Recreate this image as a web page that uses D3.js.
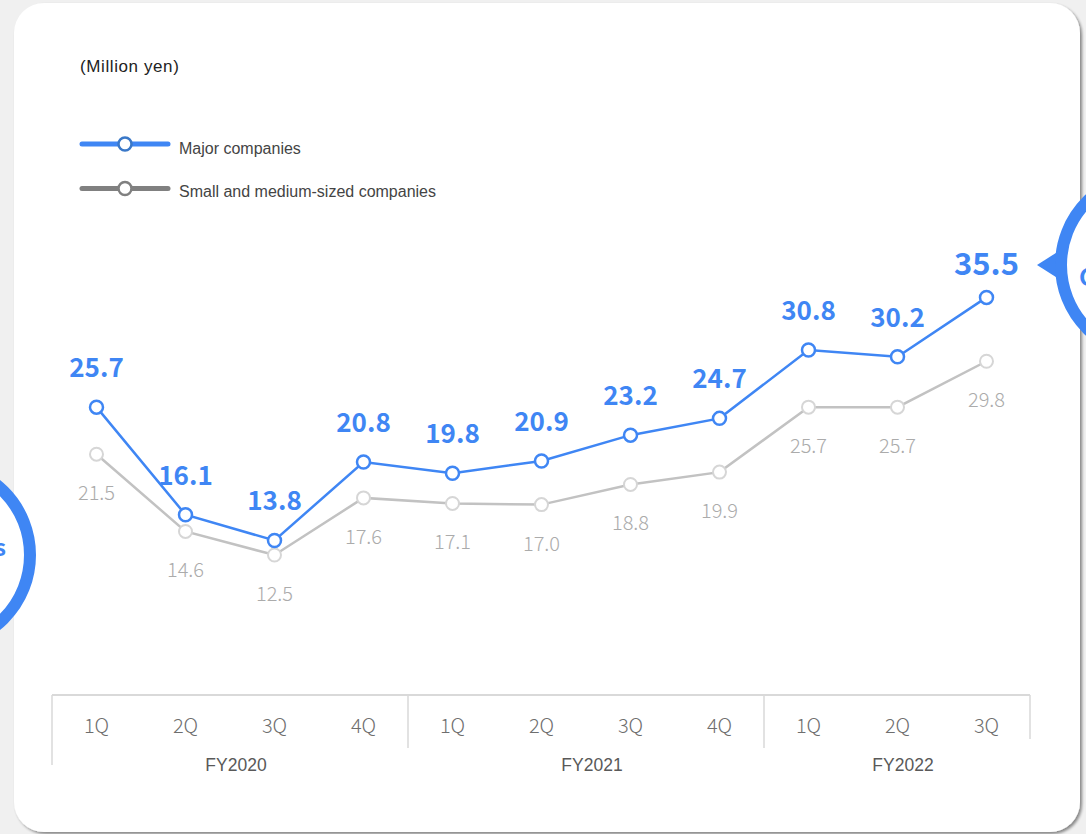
<!DOCTYPE html>
<html>
<head>
<meta charset="utf-8">
<script src="https://cdn.jsdelivr.net/npm/d3@7/dist/d3.min.js"></script>
<style>
  html, body { margin: 0; padding: 0; background: #f0f0f0; }
  svg { display: block; }
</style>
</head>
<body>
<svg id="chart" width="1086" height="834"></svg>
<script>
// Quarterly averages, million yen
const quarters = ["1Q", "2Q", "3Q", "4Q", "1Q", "2Q", "3Q", "4Q", "1Q", "2Q", "3Q"];
const fiscalYears = ["FY2020", "FY2021", "FY2022"];
const quartersPerYear = [4, 4, 3];
const majorValues = [25.7, 16.1, 13.8, 20.8, 19.8, 20.9, 23.2, 24.7, 30.8, 30.2, 35.5];
const smeValues = [21.5, 14.6, 12.5, 17.6, 17.1, 17.0, 18.8, 19.9, 25.7, 25.7, 29.8];
const seriesNames = ["Major companies", "Small and medium-sized companies"];
const unitLabel = "(Million yen)";

const BLUE = "#3f86f4";
const GREY_LINE = "#c2c2c2";
const GREY_DOT = "#d6d6d6";
const GREY_TEXT = "#ababab";
const numFont = "'Noto Sans CJK JP', 'Noto Sans', sans-serif";
const sansFont = "'Liberation Sans', Arial, sans-serif";

const svg = d3.select("#chart");
const W = 1086, H = 834;

// card background with soft edge shadow
const defs = svg.append("defs");
const f = defs.append("filter").attr("id", "shadow").attr("x", "-5%").attr("y", "-5%").attr("width", "110%").attr("height", "110%");
f.append("feGaussianBlur").attr("in", "SourceAlpha").attr("stdDeviation", 1.5).attr("result", "b");
f.append("feOffset").attr("in", "b").attr("dx", 1.5).attr("dy", 1.5).attr("result", "o");
f.append("feComponentTransfer").attr("in", "o").attr("result", "s")
  .append("feFuncA").attr("type", "linear").attr("slope", 0.45);
const fm = f.append("feMerge");
fm.append("feMergeNode").attr("in", "s");
fm.append("feMergeNode").attr("in", "SourceGraphic");

svg.append("rect").attr("width", W).attr("height", H).attr("fill", "#f0f0f0");
svg.append("rect")
  .attr("x", 14).attr("y", 3).attr("width", 1066).attr("height", 829)
  .attr("rx", 30).attr("ry", 30)
  .attr("fill", "#ffffff")
  .attr("filter", "url(#shadow)");

// scales
const x = d3.scaleBand().domain(d3.range(quarters.length)).range([52, 1031]).padding(0);
const y = d3.scaleLinear().domain([0, 40]).range([695, 695 - 40 * 11.2]);
const cx = i => x(i) + x.bandwidth() / 2;

// category axis frame
const axisG = svg.append("g").attr("stroke", "#d9d9d9").attr("fill", "none");
axisG.append("line").attr("x1", x.range()[0]).attr("x2", x.range()[1] - 1)
  .attr("y1", y(0)).attr("y2", y(0)).attr("stroke-width", 2);
let acc = 0;
const boundaries = [0];
quartersPerYear.forEach(n => { acc += n; boundaries.push(acc); });
const edgeX = b => b === quarters.length ? x.range()[1] - 1 : x(b);
boundaries.forEach((b, k) => {
  const bx = edgeX(b);
  const bottom = k === 0 ? 765 : (k === boundaries.length - 1 ? 739 : 748);
  axisG.append("line").attr("x1", bx).attr("x2", bx).attr("y1", y(0)).attr("y2", bottom).attr("stroke-width", 1.5);
});

// quarter labels
svg.append("g").selectAll("text").data(quarters).join("text")
  .attr("x", (d, i) => cx(i)).attr("y", 733)
  .attr("text-anchor", "middle")
  .attr("font-family", numFont).attr("font-weight", 300)
  .attr("font-size", 20).attr("fill", "#6e6e6e")
  .text(d => d);

// fiscal year labels, centred under each year's group of quarters
svg.append("g").selectAll("text").data(fiscalYears).join("text")
  .attr("x", (d, k) => (edgeX(boundaries[k]) + edgeX(boundaries[k + 1])) / 2 + 6)
  .attr("y", 771)
  .attr("text-anchor", "middle")
  .attr("font-family", sansFont)
  .attr("font-size", 17.5).attr("fill", "#595959")
  .text(d => d);

const line = d3.line().x((d, i) => cx(i)).y(d => y(d));

// SME series
svg.append("path").datum(smeValues).attr("d", line)
  .attr("fill", "none").attr("stroke", GREY_LINE).attr("stroke-width", 2.5);
svg.append("g").selectAll("circle").data(smeValues).join("circle")
  .attr("cx", (d, i) => cx(i)).attr("cy", d => y(d)).attr("r", 6.5)
  .attr("fill", "#fff").attr("stroke", GREY_DOT).attr("stroke-width", 2);
svg.append("g").selectAll("text").data(smeValues).join("text")
  .attr("x", (d, i) => cx(i)).attr("y", d => y(d) + 46)
  .attr("text-anchor", "middle")
  .attr("font-family", numFont).attr("font-weight", 300)
  .attr("font-size", 20).attr("fill", GREY_TEXT)
  .text(d => d.toFixed(1));

// Major companies series
svg.append("path").datum(majorValues).attr("d", line)
  .attr("fill", "none").attr("stroke", BLUE).attr("stroke-width", 2.5);
svg.append("g").selectAll("circle").data(majorValues).join("circle")
  .attr("cx", (d, i) => cx(i)).attr("cy", d => y(d)).attr("r", 6.5)
  .attr("fill", "#fff").attr("stroke", BLUE).attr("stroke-width", 2.5);
const last = majorValues.length - 1;
svg.append("g").selectAll("text").data(majorValues).join("text")
  .attr("x", (d, i) => cx(i)).attr("y", (d, i) => y(d) - (i === last ? 22 : 30))
  .attr("text-anchor", "middle")
  .attr("font-family", numFont).attr("font-weight", 700)
  .attr("font-size", (d, i) => i === last ? 31 : 26).attr("fill", BLUE)
  .text(d => d.toFixed(1));

// unit label
svg.append("text").attr("x", 80).attr("y", 72)
  .attr("font-family", sansFont)
  .attr("font-size", 17).attr("letter-spacing", 0.6).attr("fill", "#222")
  .text(unitLabel);

// legend
const legend = [
  { name: seriesNames[0], line: BLUE, dot: "#3a78c8", ly: 144, ty: 154 },
  { name: seriesNames[1], line: "#808080", dot: "#808080", ly: 188.5, ty: 197 }
];
const lg = svg.append("g").selectAll("g").data(legend).join("g");
lg.append("line").attr("x1", 82).attr("x2", 168).attr("y1", d => d.ly).attr("y2", d => d.ly)
  .attr("stroke", d => d.line).attr("stroke-width", 5).attr("stroke-linecap", "round");
lg.append("circle").attr("cx", 125).attr("cy", d => d.ly).attr("r", 6.5)
  .attr("fill", "#fff").attr("stroke", d => d.dot).attr("stroke-width", 2.5);
lg.append("text").attr("x", 179).attr("y", d => d.ty)
  .attr("font-family", sansFont)
  .attr("font-size", 16).attr("fill", "#444")
  .text(d => d.name);

// callout badges at the edges
const badge = svg.append("g");
badge.append("circle").attr("cx", -60).attr("cy", 555).attr("r", 90)
  .attr("fill", "#fff").attr("stroke", BLUE).attr("stroke-width", 12);
badge.append("text").attr("x", 6).attr("y", 556).attr("text-anchor", "end")
  .attr("font-family", numFont).attr("font-weight", 700).attr("font-size", 22).attr("fill", BLUE)
  .text("SMEs");
badge.append("path").attr("d", "M1037,265 L1059,251 L1059,279 Z").attr("fill", BLUE);
badge.append("circle").attr("cx", 1151).attr("cy", 265).attr("r", 90)
  .attr("fill", "#fff").attr("stroke", BLUE).attr("stroke-width", 12);
badge.append("text").attr("x", 1079).attr("y", 286)
  .attr("font-family", numFont).attr("font-weight", 700).attr("font-size", 24).attr("fill", BLUE)
  .text("Costs");
</script>
</body>
</html>
